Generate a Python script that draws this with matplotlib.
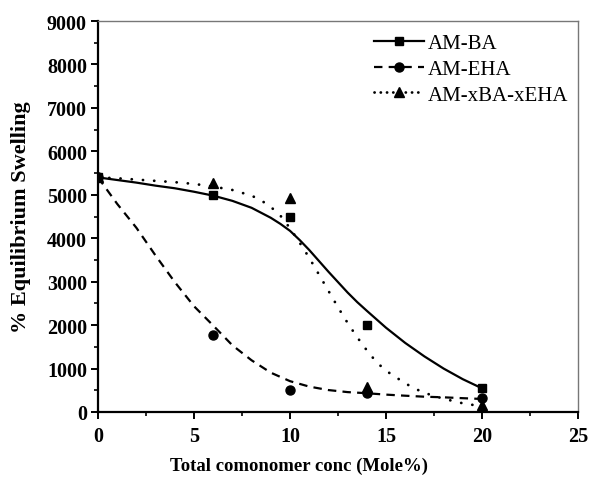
import matplotlib
matplotlib.use("Agg")
import matplotlib.pyplot as plt
from matplotlib.ticker import MultipleLocator

# measured swelling (%), comonomer conc in mole %
conc = [0, 6, 10, 14, 20]
am_ba = [5400, 5000, 4500, 2000, 550]
am_eha = [5400, 1780, 515, 440, 315]
am_mix = [5400, 5270, 4920, 570, 160]

# fitted curves
ba_fit_x = [0, 1, 2, 3, 4, 5, 6, 7, 8, 9, 9.5, 10, 10.5, 11, 11.5, 12, 12.5,
            13, 13.5, 14, 15, 16, 17, 18, 19, 20]
ba_fit = [5400, 5340, 5280, 5210, 5150, 5070, 4980, 4860, 4700, 4470, 4330,
          4170, 3960, 3730, 3480, 3230, 2990, 2750, 2530, 2330, 1940, 1590,
          1280, 1000, 755, 545]

eha_fit_x = [0, 1, 2, 3, 4, 5, 6, 7, 8, 9, 10, 11, 12, 13, 14, 15, 16, 17,
             18, 19, 20]
eha_fit = [5400, 4790, 4240, 3600, 2990, 2435, 1990, 1535, 1190, 905, 710,
           585, 505, 458, 432, 400, 375, 352, 338, 318, 300]

mix_fit_x = [0, 1, 2, 3, 4, 5, 6, 7, 8, 8.5, 9, 9.5, 10, 10.5, 11, 11.5, 12,
             12.5, 13, 13.5, 14, 14.5, 15, 16, 16.5, 17, 18, 19, 20]
mix_fit = [5400, 5380, 5350, 5320, 5290, 5250, 5190, 5110, 4980, 4870, 4720,
           4520, 4230, 3900, 3550, 3170, 2790, 2410, 2050, 1720, 1420, 1150,
           950, 660, 540, 440, 305, 200, 130]

plt.rcParams['font.family'] = ['Liberation Serif', 'DejaVu Serif']

fig = plt.figure(figsize=(5.9, 4.81), dpi=100)
ax = fig.add_axes([98 / 590, 1 - 413 / 481, 480 / 590, 391 / 481])

ax.plot(ba_fit_x, ba_fit, color='black', lw=1.6, ls='-')
ax.plot(eha_fit_x, eha_fit, color='black', lw=1.6, ls=(0, (3.8, 2.8)))
ax.plot(mix_fit_x, mix_fit, color='black', lw=2.0, ls=(0, (0.05, 4.0)),
        dash_capstyle='round')

ax.plot(conc, am_ba, ls='none', marker='s', ms=6, color='black')
ax.plot(conc, am_eha, ls='none', marker='o', ms=6.5, color='black')
ax.plot(conc, am_mix, ls='none', marker='^', ms=7, color='black')

# legend handles: line + marker
h1, = ax.plot([], [], color='black', lw=1.6, ls='-', marker='s', ms=6)
h2, = ax.plot([], [], color='black', lw=1.6, ls=(0, (3.8, 2.8)), marker='o', ms=6.5)
h3, = ax.plot([], [], color='black', lw=2.0, ls=(0, (0.05, 2.2)),
              dash_capstyle='round', marker='^', ms=7)
ax.legend([h1, h2, h3], ['AM-BA', 'AM-EHA', 'AM-xBA-xEHA'],
          loc='upper left', bbox_to_anchor=((374 - 98) / 480, 0.968),
          frameon=False, fontsize=15, handlelength=2.4, handletextpad=0.2,
          labelspacing=0.3, borderpad=0, borderaxespad=0)

ax.set_xlim(0, 25)
ax.set_ylim(0, 9000)
ax.xaxis.set_major_locator(MultipleLocator(5))
ax.xaxis.set_minor_locator(MultipleLocator(2.5))
ax.yaxis.set_major_locator(MultipleLocator(1000))
ax.yaxis.set_minor_locator(MultipleLocator(500))

for side in ['left', 'bottom']:
    ax.spines[side].set_linewidth(1.6)
    ax.spines[side].set_color('black')
for side in ['top', 'right']:
    ax.spines[side].set_linewidth(1.0)
    ax.spines[side].set_color('#777777')

ax.tick_params(which='major', direction='out', length=5, width=1.4,
               labelsize=14.5)
ax.tick_params(which='minor', direction='out', length=3, width=1.2)
ax.tick_params(axis='x', which='major', pad=5)
ax.tick_params(axis='y', which='major', pad=3)
for lab in ax.get_xticklabels() + ax.get_yticklabels():
    lab.set_fontweight('bold')

ax.set_xlabel('Total comonomer conc (Mole%)', fontsize=13.5, fontweight='bold')
ax.xaxis.set_label_coords((299 - 98) / 480, -0.115)
ax.set_ylabel('% Equilibrium Swelling', fontsize=16, fontweight='bold')
ax.yaxis.set_label_coords(-0.14, 0.5)

fig.savefig('out.png', dpi=100)
